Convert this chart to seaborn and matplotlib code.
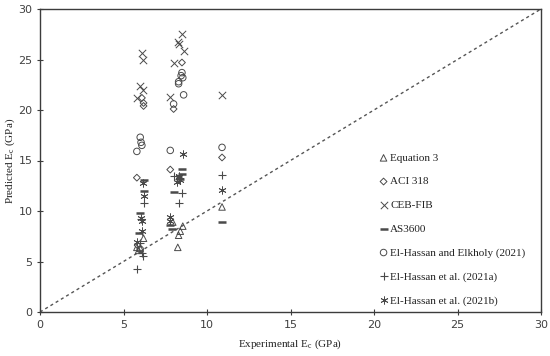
import matplotlib
matplotlib.use("Agg")
import matplotlib.pyplot as plt
import seaborn as sns
import pandas as pd

# ---- data ----
eq3_x = [5.8, 5.9, 6.0, 6.2, 7.95, 8.25, 8.3, 8.4, 8.55, 10.9]
eq3_y = [6.4, 6.1, 6.3, 7.3, 8.9, 6.4, 7.6, 8.0, 8.5, 10.4]

aci_x = [5.8, 5.85, 6.1, 6.2, 6.2, 7.8, 8.0, 8.5, 10.9]
aci_y = [13.3, 6.6, 21.2, 20.7, 20.4, 14.1, 20.1, 24.7, 15.3]

ceb_x = [5.8, 6.0, 6.15, 6.1, 6.15, 7.8, 8.0, 8.25, 8.3, 8.5, 8.6, 10.9]
ceb_y = [21.2, 22.4, 22.0, 25.6, 25.0, 21.3, 24.7, 26.7, 26.5, 27.5, 25.8, 21.5]

as_x = [5.9, 6.0, 6.2, 6.2, 7.8, 7.9, 8.0, 8.4, 8.5, 8.5, 10.9]
as_y = [7.8, 9.8, 12.0, 13.1, 8.6, 8.2, 11.9, 13.2, 13.7, 14.2, 8.9]

elk_x = [5.8, 6.0, 6.05, 6.1, 6.0, 7.8, 8.0, 8.3, 8.3, 8.45, 8.5, 8.55, 8.6, 10.9]
elk_y = [15.9, 17.3, 16.8, 16.5, 6.2, 16.0, 20.6, 22.6, 22.8, 23.4, 23.7, 23.2, 21.5, 16.3]

a21_x = [5.8, 6.1, 6.15, 6.2, 6.05, 6.0, 8.0, 8.3, 8.5, 8.3, 10.9]
a21_y = [4.3, 5.8, 5.5, 10.8, 9.2, 6.8, 13.5, 10.8, 11.8, 13.2, 13.6]

b21_x = [5.8, 6.1, 6.15, 6.25, 6.05, 6.1, 7.8, 7.8, 8.2, 8.3, 8.4, 8.55, 10.9, 8.35]
b21_y = [6.9, 8.0, 12.8, 11.5, 9.3, 9.0, 9.4, 9.0, 12.9, 13.4, 13.1, 15.6, 12.1, 13.5]

labels = ["Equation 3", "ACI 318", "CEB-FIB", "AS3600",
          "El-Hassan and Elkholy (2021)", "El-Hassan et al. (2021a)",
          "El-Hassan et al. (2021b)"]
xs = [eq3_x, aci_x, ceb_x, as_x, elk_x, a21_x, b21_x]
ys = [eq3_y, aci_y, ceb_y, as_y, elk_y, a21_y, b21_y]

xticks = [0, 5, 10, 15, 20, 25, 30]
yticks = [0, 5, 10, 15, 20, 25, 30]

# ---- styling ----
sns.set_theme(style="white")
plt.rcParams["font.family"] = ["DejaVu Sans"]
col = "#3c3c3c"
mcol = "#4a4a4a"

fig = plt.figure(figsize=(5.5, 3.56), dpi=100)
ax = fig.add_axes([40/550, 44/356, 501/550, 303/356])

styles = [
    dict(marker="^", s=22, facecolors="none", edgecolors=mcol, linewidths=0.7),
    dict(marker="D", s=12, facecolors="none", edgecolors=mcol, linewidths=0.7),
    dict(marker="x", s=28, color=mcol, linewidths=0.7),
    dict(marker="_", s=30, color=mcol, linewidths=1.8),
    dict(marker="o", s=22, facecolors="none", edgecolors=mcol, linewidths=0.7),
    dict(marker="+", s=34, color=mcol, linewidths=0.8),
    dict(marker=(6, 2, 0), s=28, color=mcol, linewidths=0.6),
]

for lab, x, y, st in zip(labels, xs, ys, styles):
    df = pd.DataFrame({"x": x, "y": y})
    sns.scatterplot(data=df, x="x", y="y", ax=ax, label=lab, zorder=3, **st)

ax.plot([0, 30], [0, 30], linestyle=(0, (2.2, 2.2)), color="#555555", lw=1.0, zorder=2)

ax.set_xlim(0, 30)
ax.set_ylim(0, 30)
ax.set_xticks(xticks)
ax.set_yticks(yticks)
ax.tick_params(axis="both", direction="inout", length=5, width=0.8, colors=col,
               labelsize=8, labelcolor="#404040", bottom=True, left=True, pad=3)
for sp in ax.spines.values():
    sp.set_color(col)
    sp.set_linewidth(1.0)

serif = ["Liberation Serif", "DejaVu Serif"]
ax.set_xlabel(r"Experimental $\mathregular{E_c}$ (GPa)", fontsize=8, family=serif,
              color="#222222", labelpad=6)
ax.set_ylabel(r"Predicted $\mathregular{E_c}$ (GPa)", fontsize=8, family=serif,
              color="#222222", labelpad=1)

leg = ax.legend(loc="upper left", bbox_to_anchor=(378/550, 1 - 153/356),
                bbox_transform=fig.transFigure, frameon=False,
                prop={"family": serif, "size": 8}, labelspacing=1.25,
                handletextpad=0.1, handlelength=1.0, borderpad=0, borderaxespad=0)
for t in leg.get_texts():
    t.set_color("#222222")

fig.savefig("out.png", dpi=100)
